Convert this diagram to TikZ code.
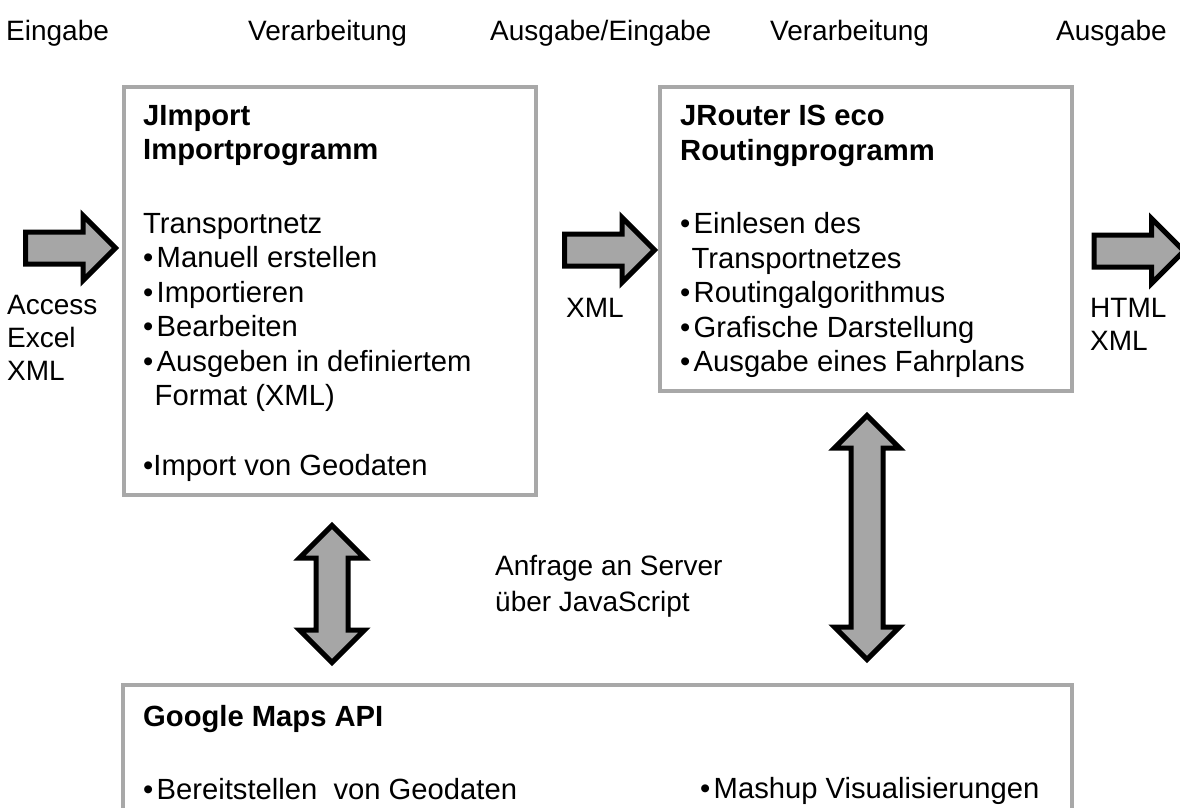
\documentclass[tikz,border=0pt]{standalone}
\usepackage{fontspec}
\setmainfont{Liberation Sans}
\usetikzlibrary{positioning,shapes.arrows}
\definecolor{framegray}{HTML}{A8A8A8}
\definecolor{arrowgray}{HTML}{A6A6A6}
\newcommand{\bul}{\makebox[13.5pt][l]{•}}
\newcommand{\hang}{\hspace*{11.5pt}}
\tikzset{
  box/.style={draw=framegray, line width=4pt, inner sep=0pt, outer sep=0pt, anchor=north west},
  boxtext/.style={inner sep=0pt, align=left, anchor=north west, font=\fontsize{29.2}{34.5}\selectfont},
  lbl/.style={inner sep=0pt, align=left, font=\fontsize{28}{33}\selectfont},
  blockarrow/.style={single arrow, draw=black, line width=5pt, fill=arrowgray,
    inner xsep=0pt, inner ysep=13.5pt, single arrow head extend=16.5pt, minimum height=90pt},
  twoarrow/.style={double arrow, draw=black, line width=5pt, fill=arrowgray, rotate=90,
    inner xsep=0pt, inner ysep=13.5pt, double arrow head extend=16.5pt}
}
\begin{document}
\begin{tikzpicture}[x=1pt, y=-1pt]
  \useasboundingbox (0,0) rectangle (1180,807);
  % stages
  \node[lbl, anchor=base west] (stage1) at (6,40) {Eingabe};
  \node[lbl, anchor=base west] (stage2) at (248,40) {Verarbeitung};
  \node[lbl, anchor=base west] (stage3) at (490,40) {Ausgabe/Eingabe};
  \node[lbl, anchor=base west] (stage4) at (770,40) {Verarbeitung};
  \node[lbl, anchor=base west] (stage5) at (1056,40) {Ausgabe};
  % boxes
  \node[box, minimum width=412pt, minimum height=408pt] (imp) at (124,87) {};
  \node[box, minimum width=412pt, minimum height=304pt] (rout) at (660,87) {};
  \node[box, minimum width=949pt, minimum height=170pt] (gmap) at (123,685) {};
  \node[boxtext] (imptxt) at ([shift={(19pt,-18pt)}]imp.north west)
    {\textbf{JImport}\\\textbf{Importprogramm}\\[39pt]Transportnetz\\
     \bul Manuell erstellen\\\bul Importieren\\\bul Bearbeiten\\
     \bul Ausgeben in definiertem\\\hang Format (XML)\\[35.5pt]•Import von Geodaten};
  \node[boxtext] (routtxt) at ([shift={(20pt,-18pt)}]rout.north west)
    {\textbf{JRouter IS eco}\\\textbf{Routingprogramm}\\[39pt]\bul Einlesen des\\
     \hang Transportnetzes\\\bul Routingalgorithmus\\\bul Grafische Darstellung\\
     \bul Ausgabe eines Fahrplans};
  \node[boxtext] (gmaptxt) at ([shift={(20pt,-20pt)}]gmap.north west)
    {\textbf{Google Maps API}\\[38.5pt]\bul Bereitstellen~ von Geodaten};
  \node[boxtext, anchor=base west] (gmapviz) at (700,798) {\bul Mashup Visualisierungen};
  % arrows
  \node[blockarrow] (inarr) at (62.5,248) {};
  \node[blockarrow] (xmlarr) at (601.5,250) {};
  \node[blockarrow] (outarr) at (1131,251) {};
  \node[twoarrow, minimum height=137pt] (imparr) at (332,594) {};
  \node[twoarrow, minimum height=244pt] (routarr) at (867,537.5) {};
  % arrow labels
  \node[lbl, anchor=north west] (inlbl) at (7,295) {Access\\Excel\\XML};
  \node[lbl, anchor=base west] (xmllbl) at (566,317) {XML};
  \node[lbl, anchor=north west] (outlbl) at (1090,298) {HTML\\XML};
  \node[lbl, anchor=north west, font=\fontsize{28}{36}\selectfont] (query) at (495,555)
    {Anfrage an Server\\über JavaScript};
\end{tikzpicture}
\end{document}
